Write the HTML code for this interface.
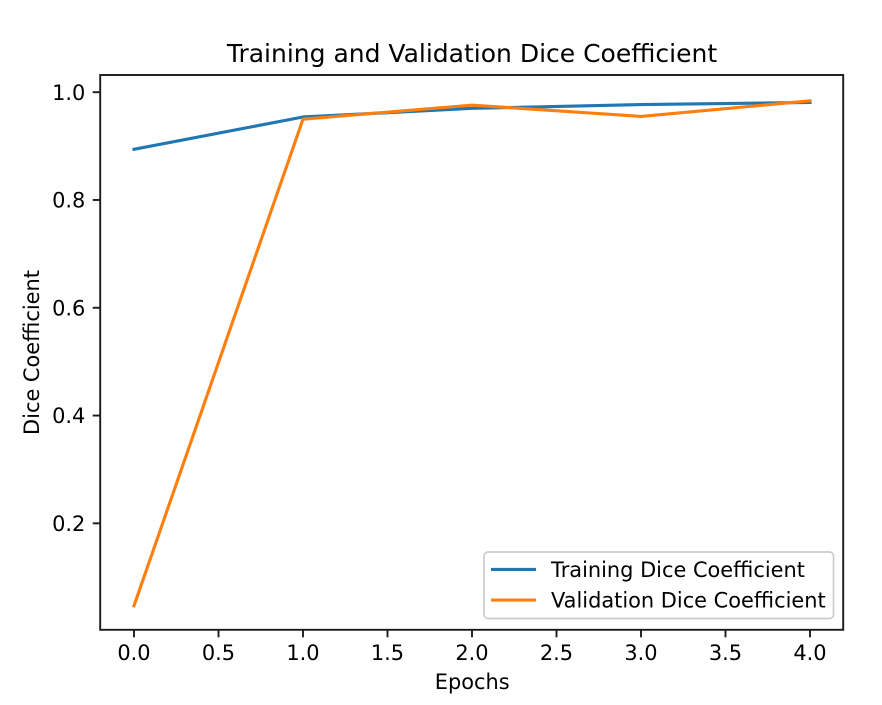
<!DOCTYPE html>
<html>
<head>
<meta charset="utf-8">
<title>Training and Validation Dice Coefficient</title>
<style>
html,body{margin:0;padding:0;background:#fff;}
svg{display:block;}
text{font-family:"DejaVu Sans","Liberation Sans",sans-serif;fill:#000;}
</style>
</head>
<body>
<svg id="chart" xmlns="http://www.w3.org/2000/svg" width="882" height="705" viewBox="0 0 882 705">
<rect x="0" y="0" width="882" height="705" fill="#ffffff"/>
<g id="ticks"></g>
<g id="series"></g>
<rect x="100.2" y="75" width="743" height="554.8" fill="none" stroke="#1a1a1a" stroke-width="1.9"/>
<text x="472" y="62" font-size="25" text-anchor="middle">Training and Validation Dice Coefficient</text>
<text x="472.2" y="689" font-size="20.9" text-anchor="middle">Epochs</text>
<text transform="translate(39 352.5) rotate(-90)" x="0" y="0" font-size="20.9" text-anchor="middle">Dice Coefficient</text>
<g>
<rect x="484" y="552" width="349.5" height="66.5" rx="4" ry="4" fill="#ffffff" fill-opacity="0.8" stroke="#cccccc" stroke-width="1.67"/>
<line x1="491" y1="569.4" x2="536" y2="569.4" stroke="#1f77b4" stroke-width="3.125"/>
<text x="551" y="577" font-size="20.9">Training Dice Coefficient</text>
<line x1="491" y1="600" x2="536" y2="600" stroke="#ff7f0e" stroke-width="3.125"/>
<text x="551" y="607.5" font-size="20.9">Validation Dice Coefficient</text>
</g>
</svg>
<script>
const epochs = [0, 1, 2, 3, 4];
const trainingDice = [0.894, 0.954, 0.970, 0.977, 0.981];
const validationDice = [0.047, 0.950, 0.976, 0.955, 0.984];
const xTickValues = [0, 0.5, 1, 1.5, 2, 2.5, 3, 3.5, 4];
const yTickValues = [0.2, 0.4, 0.6, 0.8, 1.0];

const NS = 'http://www.w3.org/2000/svg';
function xScale(v) { return 134 + v * 169; }
function yScale(v) { return 92.2 + (1 - v) * 538.9; }

const ticksGroup = document.getElementById('ticks');
const seriesGroup = document.getElementById('series');

xTickValues.forEach(function (v) {
  const x = xScale(v);
  const tick = document.createElementNS(NS, 'line');
  
  
  tick.setAttribute('x1', x);
  tick.setAttribute('x2', x);
  tick.setAttribute('y1', 629.8);
  tick.setAttribute('y2', 637.3);
  tick.setAttribute('stroke', '#1a1a1a');
  tick.setAttribute('stroke-width', 1.9);
  ticksGroup.appendChild(tick);
  const label = document.createElementNS(NS, 'text');
  
  
  label.setAttribute('x', x);
  label.setAttribute('y', 660);
  label.setAttribute('font-size', 20.9);
  label.setAttribute('text-anchor', 'middle');
  label.textContent = v.toFixed(1);
  ticksGroup.appendChild(label);
});

yTickValues.forEach(function (v) {
  const y = yScale(v);
  const tick = document.createElementNS(NS, 'line');
  
  
  tick.setAttribute('x1', 92.7);
  tick.setAttribute('x2', 100);
  tick.setAttribute('y1', y);
  tick.setAttribute('y2', y);
  tick.setAttribute('stroke', '#1a1a1a');
  tick.setAttribute('stroke-width', 1.9);
  ticksGroup.appendChild(tick);
  const label = document.createElementNS(NS, 'text');
  
  
  label.setAttribute('x', 85.3);
  label.setAttribute('y', y + 7.6);
  label.setAttribute('font-size', 20.9);
  label.setAttribute('text-anchor', 'end');
  label.textContent = v.toFixed(1);
  ticksGroup.appendChild(label);
});

function pointsFor(values) {
  return values.map(function (v, i) {
    return xScale(epochs[i]).toFixed(2) + ',' + yScale(v).toFixed(2);
  }).join(' ');
}

const trainingLine = document.createElementNS(NS, 'polyline');


trainingLine.setAttribute('points', pointsFor(trainingDice));
trainingLine.setAttribute('fill', 'none');
trainingLine.setAttribute('stroke', '#1f77b4');
trainingLine.setAttribute('stroke-width', 3.125);
trainingLine.setAttribute('stroke-linejoin', 'round');
trainingLine.setAttribute('stroke-linecap', 'square');
seriesGroup.appendChild(trainingLine);

const validationLine = document.createElementNS(NS, 'polyline');


validationLine.setAttribute('points', pointsFor(validationDice));
validationLine.setAttribute('fill', 'none');
validationLine.setAttribute('stroke', '#ff7f0e');
validationLine.setAttribute('stroke-width', 3.125);
validationLine.setAttribute('stroke-linejoin', 'round');
validationLine.setAttribute('stroke-linecap', 'square');
seriesGroup.appendChild(validationLine);
</script>
</body>
</html>
